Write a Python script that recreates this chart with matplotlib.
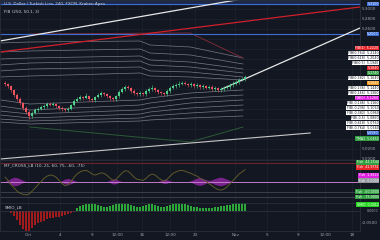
import matplotlib.pyplot as plt
import matplotlib.transforms as mtransforms
import numpy as np

# candle closes (4h bars), open = previous close
first_open = 5.152
closes = [5.150, 5.146, 5.138, 5.128, 5.120, 5.112, 5.102, 5.094, 5.086, 5.092,
          5.098, 5.100, 5.104, 5.106, 5.110, 5.108, 5.110, 5.106, 5.102, 5.100,
          5.098, 5.100, 5.108, 5.116, 5.120, 5.124, 5.122, 5.126, 5.120, 5.118,
          5.124, 5.128, 5.132, 5.130, 5.126, 5.122, 5.120, 5.126, 5.134, 5.140,
          5.144, 5.142, 5.136, 5.132, 5.130, 5.132, 5.130, 5.136, 5.140, 5.142,
          5.138, 5.134, 5.132, 5.130, 5.136, 5.142, 5.146, 5.148, 5.150, 5.152,
          5.150, 5.148, 5.150, 5.146, 5.148, 5.144, 5.146, 5.142, 5.144, 5.140,
          5.142, 5.138, 5.140, 5.142, 5.144, 5.148, 5.150, 5.154, 5.158, 5.160,
          5.164]
highs = [5.156, 5.153, 5.149, 5.141, 5.131, 5.124, 5.115, 5.105, 5.097, 5.096,
         5.102, 5.104, 5.108, 5.111, 5.114, 5.113, 5.115, 5.112, 5.108, 5.105,
         5.103, 5.104, 5.111, 5.120, 5.124, 5.129, 5.127, 5.131, 5.129, 5.123,
         5.127, 5.132, 5.137, 5.135, 5.133, 5.128, 5.125, 5.129, 5.138, 5.144,
         5.149, 5.147, 5.145, 5.139, 5.135, 5.136, 5.135, 5.140, 5.144, 5.147,
         5.145, 5.141, 5.137, 5.135, 5.139, 5.146, 5.150, 5.153, 5.155, 5.157,
         5.156, 5.153, 5.154, 5.153, 5.152, 5.151, 5.150, 5.149, 5.148, 5.147,
         5.146, 5.145, 5.144, 5.146, 5.148, 5.152, 5.155, 5.158, 5.162, 5.165,
         5.168]
lows = [5.146, 5.143, 5.134, 5.124, 5.116, 5.108, 5.098, 5.089, 5.080, 5.083,
        5.089, 5.095, 5.097, 5.101, 5.103, 5.105, 5.106, 5.103, 5.099, 5.096,
        5.094, 5.095, 5.098, 5.105, 5.113, 5.118, 5.119, 5.120, 5.117, 5.114,
        5.115, 5.121, 5.125, 5.127, 5.123, 5.118, 5.116, 5.117, 5.123, 5.131,
        5.137, 5.139, 5.133, 5.128, 5.126, 5.127, 5.126, 5.127, 5.133, 5.137,
        5.135, 5.130, 5.128, 5.126, 5.127, 5.133, 5.139, 5.143, 5.145, 5.147,
        5.147, 5.145, 5.145, 5.143, 5.143, 5.141, 5.141, 5.139, 5.139, 5.137,
        5.137, 5.135, 5.135, 5.137, 5.139, 5.141, 5.145, 5.147, 5.151, 5.155,
        5.157]

# fib band lines (anchor bars / prices)
band_x = [-1.7, 8.3, 45, 48.3, 61.7, 79.3]
upper_bands = [
    [5.232, 5.234, 5.236, 5.228, 5.224, 5.202],
    [5.214, 5.216, 5.220, 5.212, 5.208, 5.190],
    [5.200, 5.202, 5.206, 5.198, 5.194, 5.180],
    [5.188, 5.192, 5.196, 5.188, 5.184, 5.172],
    [5.176, 5.180, 5.184, 5.176, 5.174, 5.164],
    [5.164, 5.166, 5.172, 5.166, 5.164, 5.158],
]
lower_bands = [
    [5.118, 5.110, 5.118, 5.122, 5.132, 5.138],
    [5.106, 5.098, 5.108, 5.112, 5.122, 5.128],
    [5.096, 5.090, 5.098, 5.102, 5.112, 5.118],
    [5.088, 5.082, 5.090, 5.094, 5.102, 5.108],
    [5.080, 5.076, 5.082, 5.086, 5.092, 5.098],
    [5.074, 5.070, 5.076, 5.078, 5.082, 5.086],
]
channel_x = [8.3, 61.7, 79.3]
channel_top = [5.250, 5.252, 5.202]
channel_bot = [5.064, 5.034, 5.064]

# drawn trend lines
trend_white_x = [-1.7, 118.3]
trend_white_y = [5.236, 5.361]
trend_red_x = [-1.7, 118.3]
trend_red_y = [5.214, 5.304]
trend_up_x = [72.3, 118.3]
trend_up_y = [5.140, 5.262]
trend_low_x = [-1.7, 101.7]
trend_low_y = [5.000, 5.052]
level_blue = [5.310, 5.250]

# right-side price labels: price, text, box colour, text colour
price_labels = [
    (5.310, "5.3100", "#3d6fd6", "white"),
    (5.250, "5.2500", "#3d6fd6", "white"),
    (5.222, "FIB(1)  5.2220", "#e5262b", "white"),
    (5.212, "FIB(0.764)  5.2140", "white", "#131722"),
    (5.202, "FIB(0.618)  5.2040", "white", "#131722"),
    (5.192, "FIB(0.5)  5.1940", "white", "#131722"),
    (5.182, "5.1840", "#e5262b", "white"),
    (5.172, "5.1740", "#2e9e3e", "white"),
    (5.162, "FIB(0.382)  5.1640", "white", "#131722"),
    (5.152, "5.1640", "#f59a23", "white"),
    (5.142, "FIB(0.236)  5.1440", "white", "#131722"),
    (5.132, "FIB(0.146)  5.1360", "white", "#131722"),
    (5.122, "FIB(0)  5.1260", "#e020e0", "white"),
    (5.112, "FIB(-0.146)  5.1160", "white", "#131722"),
    (5.102, "FIB(-0.236)  5.1060", "white", "#131722"),
    (5.092, "FIB(-0.382)  5.0960", "white", "#131722"),
    (5.082, "FIB(-0.5)  5.0860", "white", "#131722"),
    (5.072, "FIB(-0.618)  5.0760", "white", "#131722"),
    (5.062, "FIB(-0.764)  5.0660", "white", "#131722"),
    (5.052, "5.0580", "#3d6fd6", "white"),
    (5.041, "TMA1  5.0460", "#2e9e3e", "white"),
]

# MF cross oscillator pane
mf_levels = [85, 0, -50, -70]
mf_line = [20, 5, -15, -30, -45, -55, -60, -62, -58, -45, -30, -15, 0, 15, 25, 30,
           28, 20, 5, -10, -20, -15, 0, 20, 35, 45, 50, 52, 45, 35, 30, 35, 40, 38,
           28, 15, 5, 10, 25, 40, 50, 48, 35, 20, 10, 8, 5, 15, 28, 35, 30, 18, 8,
           2, 10, 25, 38, 45, 50, 52, 48, 42, 38, 30, 25, 15, 8, 0, -10, -20, -30,
           -38, -40, -35, -25, -10, 5, 20, 35, 45, 55]
mf_cloud = [0, 6, 14, 20, 18, 12, 5, 0, 0, 0, 0, 0, 0, 0, 0, 0, 0, 0, 0, 5, 12,
            14, 10, 5, 0, 0, 0, 0, 0, 0, 0, 0, 0, 0, 0, 6, 12, 10, 4, 0, 0, 0, 0,
            0, 0, 0, 0, 0, 0, 0, 0, 0, 5, 10, 8, 3, 0, 0, 0, 0, 0, 0, 4, 10, 16,
            18, 14, 8, 5, 8, 14, 18, 20, 16, 10, 5, 0, 0, 0, 0, 0]
mf_labels = [
    (90, "Fish  42.2544", "#2e9e3e"),
    (66, "Fish  41.9751", "#e5262b"),
    (28, "Fish  1.3822", "#e020e0"),
    (4, "Fish  0.0000", "#9598a1"),
    (-48, "Fish  -60.0000", "#2e9e3e"),
    (-72, "Fish  -75.0000", "#2e9e3e"),
]

# histogram pane
hist = [0, 0, -0.009, -0.023, -0.041, -0.064, -0.082, -0.095, -0.091, -0.077,
        -0.064, -0.055, -0.050, -0.045, -0.036, -0.032, -0.032, -0.027, -0.027,
        -0.023, -0.018, -0.014, -0.009, -0.005, 0.014, 0.023, 0.027, 0.032, 0.032,
        0.036, 0.032, 0.027, 0.023, 0.018, 0.018, 0.023, 0.027, 0.032, 0.036, 0.036,
        0.032, 0.032, 0.027, 0.023, 0.018, 0.018, 0.023, 0.027, 0.032, 0.032, 0.027,
        0.023, 0.018, 0.018, 0.023, 0.027, 0.032, 0.036, 0.036, 0.032, 0.032, 0.027,
        0.023, 0.018, 0.018, 0.014, 0.014, 0.014, 0.014, 0.014, 0.018, 0.018, 0.023,
        0.023, 0.027, 0.027, 0.032, 0.036, 0.036, 0.041, 0.045]

tick_pos = [7.7, 18.3, 29, 37.3, 45.7, 55, 63.3, 76.7, 87.3, 97.7, 106.7, 115.7]
tick_labels = ["Oct", "4", "9", "12:00", "16", "12:00", "23", "Nov", "5", "9",
               "12:00", "18"]

BG = "#131722"
GRID = "#1e2331"
TXT = "#a3a6af"
FS = 3.0
LFS = 2.3

plt.rcParams['font.family'] = ['DejaVu Sans']

fig = plt.figure(figsize=(3.8, 2.4), dpi=100, facecolor=BG)
W = 360 / 380
ax = fig.add_axes([0, 1 - 160 / 240, W, 160 / 240])
ax2 = fig.add_axes([0, 1 - 203 / 240, W, 43 / 240], sharex=ax)
ax3 = fig.add_axes([0, 1 - 231 / 240, W, 28 / 240], sharex=ax)

for a in (ax, ax2, ax3):
    a.set_facecolor(BG)
    for s in a.spines.values():
        s.set_color("#2a2e39")
        s.set_linewidth(0.6)
    a.yaxis.tick_right()
    a.tick_params(axis='both', length=0, labelsize=FS, colors=TXT, pad=1.5)
    for xp in tick_pos:
        a.axvline(xp, color=GRID, lw=0.5, zorder=0)

x = np.arange(len(closes))
opens = [first_open] + closes[:-1]
up = np.array(closes) >= np.array(opens)

# main pane
ax.set_xlim(-1.7, 118.3)
ax.set_ylim(4.998, 5.318)
main_ticks = [5.00, 5.02, 5.26, 5.28, 5.30]
ax.set_yticks(main_ticks)
ax.yaxis.set_major_formatter(plt.FuncFormatter(lambda v, p: f"{v:.4f}"))
for yv in np.arange(5.00, 5.31, 0.02):
    ax.axhline(yv, color=GRID, lw=0.5, zorder=0)
ax.axhspan(5.310, 5.318, color="#1c2949", zorder=0.5)

for b in upper_bands:
    ax.plot(band_x, b, color="#8f939c", lw=0.5, alpha=0.8, zorder=1)
for b in lower_bands:
    ax.plot(band_x, b, color="#8f939c", lw=0.5, alpha=0.8, zorder=1)
ax.plot(channel_x, channel_top, color="#7a2a38", lw=0.7, zorder=1)
ax.plot(channel_x, channel_bot, color="#2d5a35", lw=0.7, zorder=1)
for lv in level_blue:
    ax.axhline(lv, color="#3d6fd6", lw=0.8, zorder=1.5)
ax.plot(trend_white_x, trend_white_y, color="#e8e8e8", lw=0.9, zorder=2)
ax.plot(trend_red_x, trend_red_y, color="#d0202c", lw=0.9, zorder=2)
ax.plot(trend_up_x, trend_up_y, color="#e8e8e8", lw=0.9, zorder=2)
ax.plot(trend_low_x, trend_low_y, color="#c8c8c8", lw=0.8, zorder=2)

cols = np.where(up, "#4fd18b", "#ef5360")
ax.vlines(x, lows, highs, colors=cols, lw=0.4, zorder=3)
body_lo = np.minimum(opens, closes)
body_h = np.maximum(np.abs(np.array(closes) - np.array(opens)), 0.0008)
ax.bar(x, body_h, bottom=body_lo, width=0.7, color=cols, lw=0, zorder=3)

blend = mtransforms.blended_transform_factory(ax.transAxes, ax.transData)
for val, text, fc, tc in price_labels:
    ax.text(1.052, val, text, transform=blend, ha='right', va='center',
            fontsize=LFS, color=tc, clip_on=False, zorder=10,
            bbox=dict(boxstyle='square,pad=0.15', fc=fc, ec='none'))

ax.text(0.012, 0.985, "U.S. Dollar / Turkish Lira, 240, FXCM, Kraken Apex",
        transform=ax.transAxes, fontsize=FS, color="#c9ccd3", va='top')
ax.text(0.012, 0.94, "FIB (250, 50.1, 3)", transform=ax.transAxes,
        fontsize=FS, color="#c9ccd3", va='top')
plt.setp(ax.get_xticklabels(), visible=False)

# MF pane
ax2.set_ylim(-100, 100)
ax2.set_yticks([])
ax2.axhline(mf_levels[0], color="#6a2430", lw=0.8)
ax2.axhline(mf_levels[1], color="#c07ac8", lw=0.7)
ax2.axhline(mf_levels[2], color="#4a4e5a", lw=0.5)
ax2.axhline(mf_levels[3], color="#4a4e5a", lw=0.5)
cloud = np.array(mf_cloud)
ax2.fill_between(x, cloud, -cloud, color="#9c27b0", alpha=0.75, lw=0)
ax2.plot(x, mf_line, color="#5e5a2a", lw=0.7)
ax2.text(0.012, 0.93, "MF_CROSS_LB (10, 21, 60, 75, -60, -75)",
         transform=ax2.transAxes, fontsize=FS, color="#c9ccd3", va='top')
blend2 = mtransforms.blended_transform_factory(ax2.transAxes, ax2.transData)
for val, text, fc in mf_labels:
    ax2.text(1.052, val, text, transform=blend2, ha='right', va='center',
             fontsize=LFS, color="white", clip_on=False,
             bbox=dict(boxstyle='square,pad=0.15', fc=fc, ec='none'))
plt.setp(ax2.get_xticklabels(), visible=False)

# histogram pane
ax3.set_ylim(-0.09, 0.036)
ax3.set_yticks([-0.05])
ax3.yaxis.set_major_formatter(plt.FuncFormatter(lambda v, p: f"{v:.4f}"))
h = np.array(hist)
ax3.bar(x, h, width=0.6, color=np.where(h < 0, "#a01c1c", "#2fa83a"), lw=0)
ax3.axhline(0, color="#3a3e4a", lw=0.4)
ax3.text(0.012, 0.93, "SMIO_LB", transform=ax3.transAxes, fontsize=FS,
         color="#c9ccd3", va='top')
blend3 = mtransforms.blended_transform_factory(ax3.transAxes, ax3.transData)
ax3.text(1.052, 0.028, "SMIO  0.0412", transform=blend3,
         ha='right', va='center', fontsize=LFS, color="white", clip_on=False,
         bbox=dict(boxstyle='square,pad=0.15', fc="#22d41e", ec='none'))
ax3.text(1.052, 0.0, "0.0000", transform=blend3, ha='right', va='center',
         fontsize=LFS, color=TXT, clip_on=False)
ax3.set_xticks(tick_pos)
ax3.set_xticklabels(tick_labels)

fig.savefig("out.png", dpi=100, facecolor=BG)
